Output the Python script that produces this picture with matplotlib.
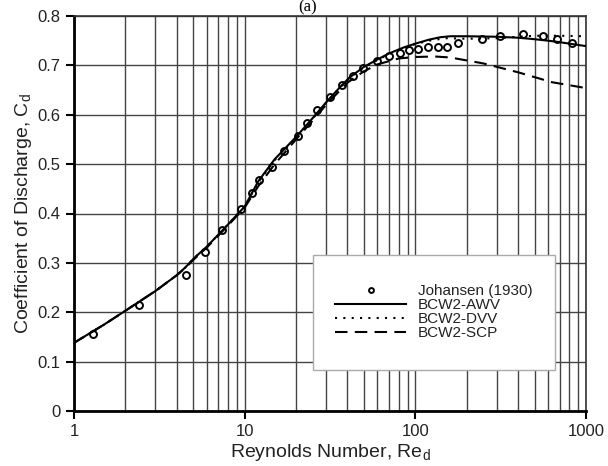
import matplotlib
matplotlib.use("Agg")
import matplotlib.pyplot as plt
from matplotlib.patches import Rectangle

plt.rcParams['font.family'] = ['Liberation Sans', 'DejaVu Sans']
plt.rcParams['mathtext.fontset'] = 'custom'
plt.rcParams['mathtext.rm'] = 'Liberation Sans'
plt.rcParams['mathtext.it'] = 'Liberation Sans'

# Johansen (1930) experimental data
joh_re = [1.29, 2.4, 4.52, 5.83, 7.33, 9.5, 11.0, 12.1, 14.4, 16.9, 20.4, 23.1, 26.7,
          31.8, 37.4, 43.4, 49.6, 59.9, 70.5, 81.6, 92, 104, 119, 135, 154, 178,
          247, 314, 428, 561, 676, 828]
joh_cd = [0.156, 0.215, 0.275, 0.322, 0.366, 0.409, 0.441, 0.468, 0.494, 0.527, 0.557,
          0.583, 0.609, 0.636, 0.660, 0.678, 0.694, 0.709, 0.719, 0.725, 0.731, 0.733,
          0.737, 0.737, 0.737, 0.745, 0.753, 0.759, 0.763, 0.759, 0.753, 0.745]

# BCW2-AWV (solid)
awv_re = [1, 1.5, 2, 3, 4, 4.5, 5, 6, 7, 8, 10, 12, 15, 20, 25, 30, 36, 41, 50, 60,
          70, 85, 100, 120, 140, 160, 200, 300, 400, 500, 600, 700, 800, 1000]
awv_cd = [0.138, 0.175, 0.203, 0.243, 0.275, 0.291, 0.308, 0.333, 0.357, 0.378, 0.414,
          0.465, 0.51, 0.555, 0.593, 0.625, 0.655, 0.675, 0.697, 0.712, 0.724, 0.736,
          0.744, 0.752, 0.757, 0.759, 0.759, 0.758, 0.756, 0.753, 0.75, 0.747, 0.744, 0.739]

# BCW2-DVV (dotted)
dvv_re = [1, 1.5, 2, 3, 4, 4.5, 5, 6, 7, 8, 10, 12, 15, 20, 25, 30, 36, 41, 50, 60,
          70, 85, 100, 120, 150, 200, 300, 400, 500, 700, 1000]
dvv_cd = [0.138, 0.175, 0.203, 0.243, 0.275, 0.291, 0.308, 0.333, 0.357, 0.378, 0.414,
          0.463, 0.508, 0.553, 0.592, 0.624, 0.654, 0.674, 0.696, 0.711, 0.723, 0.735,
          0.743, 0.75, 0.755, 0.754, 0.755, 0.758, 0.76, 0.76, 0.759]

# BCW2-SCP (dashed)
scp_re = [1, 1.5, 2, 3, 4, 4.5, 5, 6, 7, 8, 10, 12, 15, 20, 25, 30, 40, 50, 60, 80,
          100, 130, 160, 250, 400, 630, 1000]
scp_cd = [0.138, 0.175, 0.203, 0.243, 0.275, 0.29, 0.306, 0.331, 0.355, 0.376, 0.412,
          0.455, 0.5, 0.55, 0.588, 0.62, 0.665, 0.688, 0.702, 0.714, 0.717, 0.718,
          0.716, 0.704, 0.686, 0.666, 0.654]

x_ticks = [1, 10, 100, 1000]
x_ticklabels = ['1', '10', '100', '1000']
y_ticks = [0, 0.1, 0.2, 0.3, 0.4, 0.5, 0.6, 0.7, 0.8]
y_ticklabels = ['0', '0.1', '0.2', '0.3', '0.4', '0.5', '0.6', '0.7', '0.8']

fig = plt.figure(figsize=(6.08, 4.66), dpi=100)
ax = fig.add_axes([74/608, 1-411/466, 512/608, 395/466])

ax.set_xscale('log')
ax.set_xlim(1, 1000)
ax.set_ylim(0, 0.8)
ax.set_xticks(x_ticks)
ax.set_xticklabels(x_ticklabels)
ax.set_yticks(y_ticks)
ax.set_yticklabels(y_ticklabels)
ax.minorticks_on()
ax.yaxis.set_minor_locator(matplotlib.ticker.NullLocator())
ax.tick_params(axis='both', which='major', labelsize=12, direction='out', length=6, width=1.5,
               color='black', labelcolor='#222222')
ax.tick_params(axis='x', which='minor', length=0)
ax.grid(True, which='both', axis='both', color='#444444', linewidth=1.0, zorder=0)
ax.set_axisbelow(True)

for s in ['left', 'bottom']:
    ax.spines[s].set_linewidth(2.0)
    ax.spines[s].set_color('black')
for s in ['top', 'right']:
    ax.spines[s].set_linewidth(1.2)
    ax.spines[s].set_color('#333333')

ax.plot(joh_re, joh_cd, linestyle='none', marker='o', markersize=5, markerfacecolor='white',
        markeredgecolor='black', markeredgewidth=1.4, label='Johansen (1930)', zorder=3)
ax.plot(awv_re, awv_cd, color='black', linewidth=1.5, linestyle='-', label='BCW2-AWV', zorder=3)
ax.plot(dvv_re, dvv_cd, color='black', linewidth=1.5, linestyle=(0, (1, 3)), label='BCW2-DVV', zorder=3)
ax.plot(scp_re, scp_cd, color='black', linewidth=1.5, linestyle=(0, (6, 3.5)), label='BCW2-SCP', zorder=3)

rect = Rectangle((0.467, 0.104), 0.472, 0.291, transform=ax.transAxes, facecolor='white',
                 edgecolor='#aaaaaa', linewidth=1.0, zorder=4)
ax.add_patch(rect)
leg = ax.legend(loc='center', bbox_to_anchor=(0.467 + 0.472/2, 0.104 + 0.291/2),
                frameon=False, fontsize=11, handlelength=4.6, handletextpad=0.8,
                labelspacing=0.0, markerscale=0.7)
leg.set_zorder(5)
for t in leg.get_texts():
    t.set_color('#222222')

ax.set_xlabel('Reynolds Number, Re$_{\\mathrm{d}}$', fontsize=14, labelpad=2, color='#222222')
ax.set_ylabel('Coefficient of Discharge, C$_{\\mathrm{d}}$', fontsize=14, labelpad=3, color='#222222')

fig.text(308/608, 1-11/466, '(a)', family='Liberation Serif', fontsize=12, ha='center', va='baseline')

fig.savefig('out.png', dpi=100)
